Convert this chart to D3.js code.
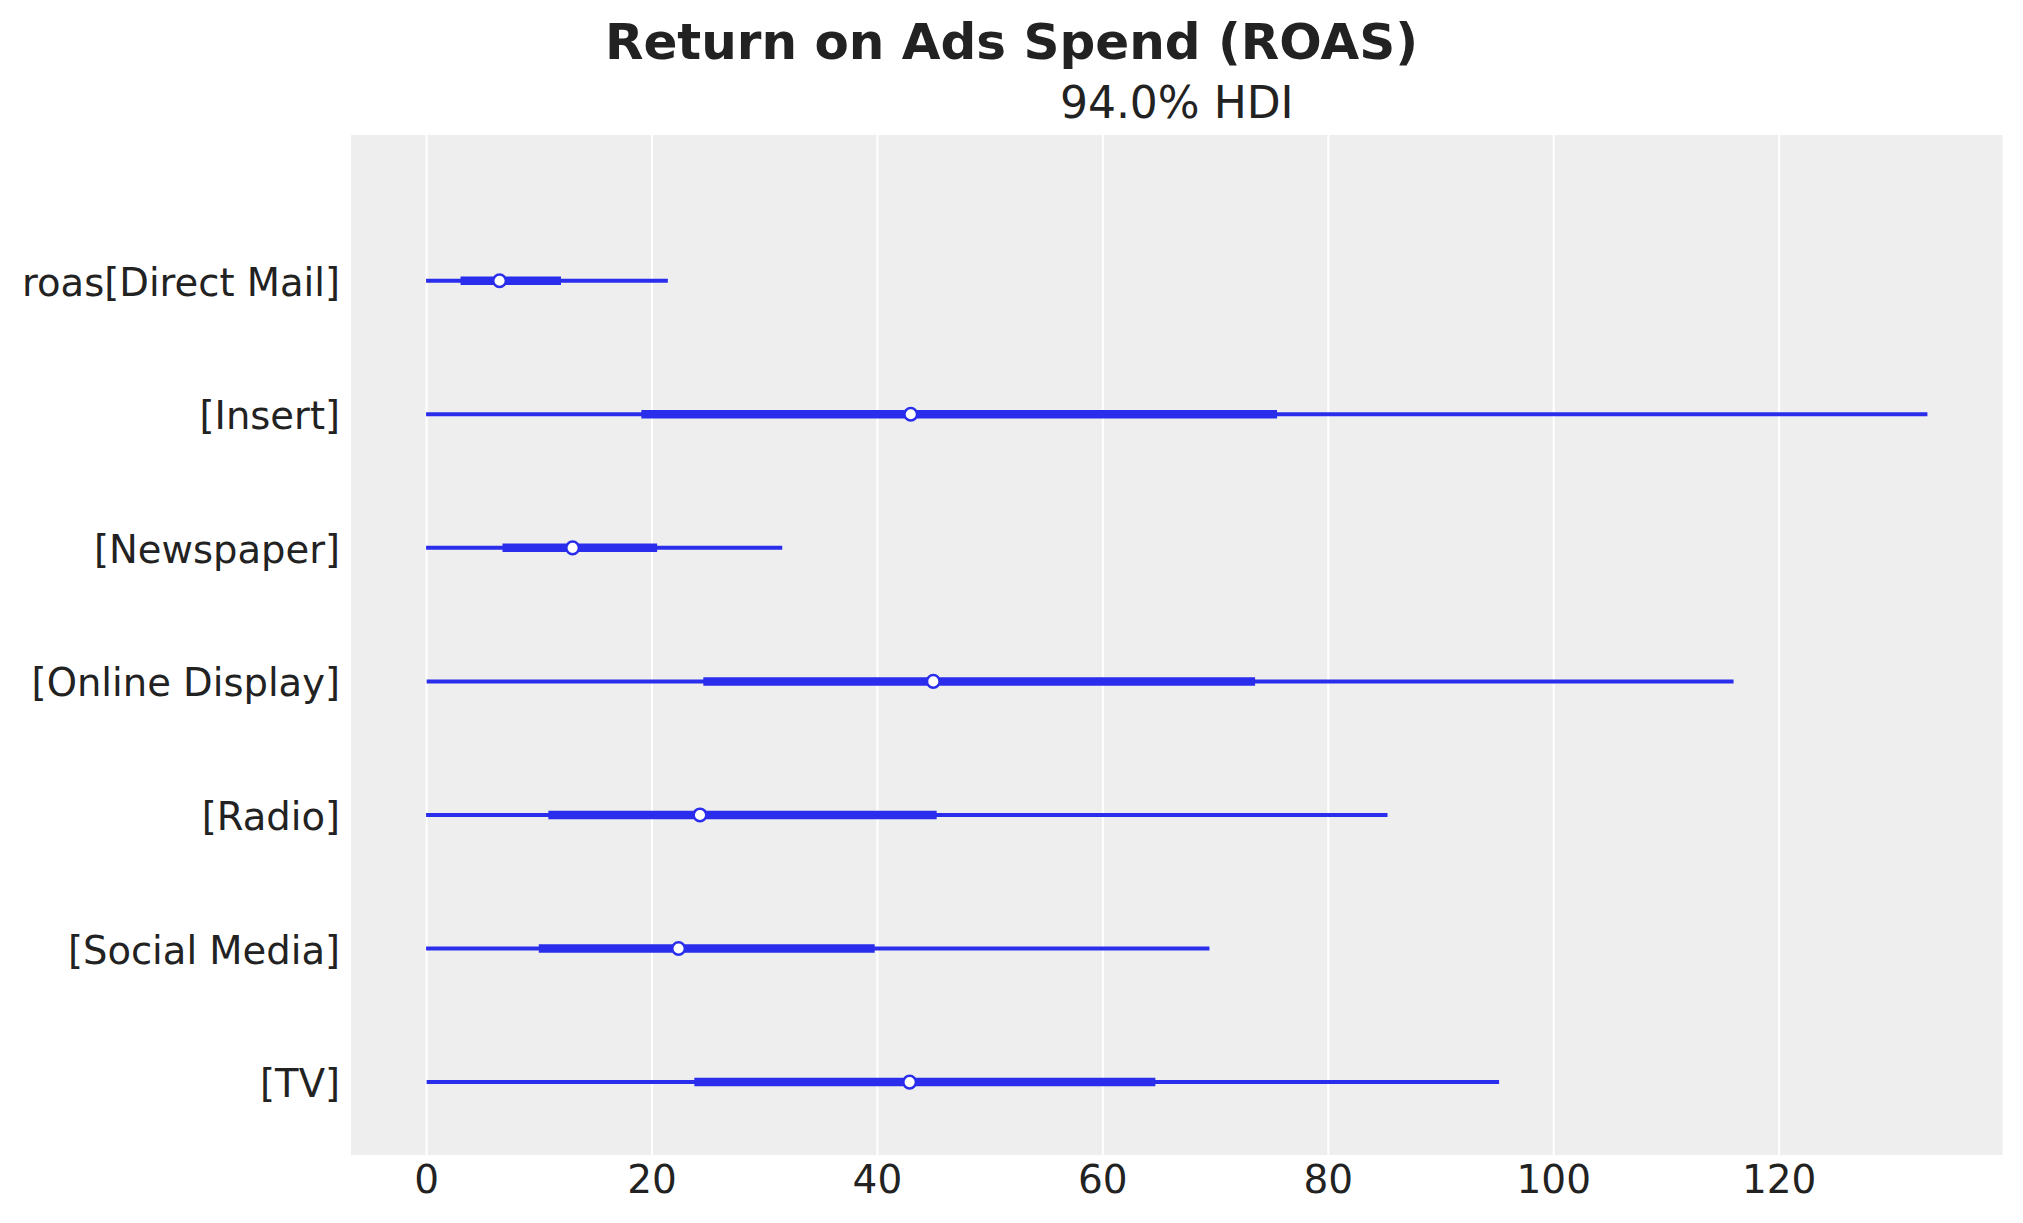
<!DOCTYPE html>
<html>
<head>
<meta charset="utf-8">
<script src="https://cdn.jsdelivr.net/npm/d3@7"></script>
<style>
  body{margin:0;background:#fff;}
  svg{display:block;font-family:"DejaVu Sans",sans-serif;}
</style>
</head>
<body>
<svg width="2023" height="1223"></svg>
<script>
// forest plot values
var channels=['roas[Direct Mail]','[Insert]','[Newspaper]','[Online Display]','[Radio]','[Social Media]','[TV]'];
var hdiLow=[0,0,0,0.05,0,0,0.05];
var hdiHigh=[21.45,133.2,31.6,116.0,85.3,69.5,95.2];
var iqrLow=[3.06,19.1,6.78,24.6,10.85,10.0,23.8];
var iqrHigh=[11.97,75.5,20.5,73.55,45.3,39.8,64.7];
var medians=[6.52,43.0,13.0,45.0,24.3,22.4,42.9];
var xTicks=[0,20,40,60,80,100,120];

var drawGraph=function(){
  let svg=d3.select('body').select('svg');
  let bounds=svg.node().getBoundingClientRect();
  let margin={
    top:135,
    bottom:68,
    right:20.5,
    left:351
  };
  let plotWidth=bounds.width-margin.left-margin.right;
  let plotHeight=bounds.height-margin.top-margin.bottom;

  let rows=channels.map(function(c,i){
    return {label:c,i:i,lo:hdiLow[i],hi:hdiHigh[i],q1:iqrLow[i],q3:iqrHigh[i],med:medians[i]};
  });

  // matplotlib style 5% margins round the data
  let xMin=d3.min(hdiLow),xMax=d3.max(hdiHigh);
  let pad=(xMax-xMin)*0.05;
  let xScale=d3.scaleLinear()
    .domain([xMin-pad,xMax+pad])
    .range([0,plotWidth]);
  let yScale=d3.scaleLinear()
    .domain([-1.091,6.546])
    .range([0,plotHeight]);

  let plot=svg.append('g').attr('id','plot')
    .attr('transform','translate('+margin.left+','+margin.top+')');

  plot.append('rect')
    .attr('width',plotWidth)
    .attr('height',plotHeight)
    .attr('fill','#eeeeee');

  // vertical grid
  let grid=plot.append('g').attr('id','grid')
    .call(d3.axisBottom(xScale).tickValues(xTicks).tickSize(plotHeight).tickFormat(''));
  grid.select('.domain').remove();
  grid.selectAll('line').attr('stroke','#ffffff').attr('stroke-width',2);

  let xGroup=plot.append('g').attr('id','x-axis')
    .attr('transform','translate(0,'+plotHeight+')')
    .call(d3.axisBottom(xScale).tickValues(xTicks).tickSize(0).tickPadding(10).tickFormat(d3.format('d')));
  xGroup.select('.domain').remove();
  xGroup.selectAll('text')
    .attr('font-size',39)
    .attr('fill','#222222')
    .attr('font-family','DejaVu Sans');

  let yGroup=plot.append('g').attr('id','y-axis');
  yGroup.selectAll('text.ylabel')
    .data(rows)
    .enter()
    .append('text')
    .attr('class','ylabel')
    .attr('x',-11)
    .attr('y',function(d){return yScale(d.i)+15;})
    .attr('text-anchor','end')
    .attr('font-size',38.5)
    .attr('fill','#222222')
    .text(function(d){return d.label;});

  let color='#2a2eec';
  let marks=plot.append('g').attr('id','marks');

  marks.selectAll('line.hdi')
    .data(rows)
    .enter()
    .append('line')
    .attr('class','hdi')
    .attr('x1',function(d){return xScale(d.lo);})
    .attr('x2',function(d){return xScale(d.hi);})
    .attr('y1',function(d){return yScale(d.i);})
    .attr('y2',function(d){return yScale(d.i);})
    .attr('stroke',color)
    .attr('stroke-width',4);

  marks.selectAll('line.iqr')
    .data(rows)
    .enter()
    .append('line')
    .attr('class','iqr')
    .attr('x1',function(d){return xScale(d.q1);})
    .attr('x2',function(d){return xScale(d.q3);})
    .attr('y1',function(d){return yScale(d.i);})
    .attr('y2',function(d){return yScale(d.i);})
    .attr('stroke',color)
    .attr('stroke-width',8.5);

  marks.selectAll('circle.med')
    .data(rows)
    .enter()
    .append('circle')
    .attr('class','med')
    .attr('cx',function(d){return xScale(d.med);})
    .attr('cy',function(d){return yScale(d.i);})
    .attr('r',6.3)
    .attr('fill','#ffffff')
    .attr('stroke',color)
    .attr('stroke-width',2.5);

  // titles
  svg.append('text')
    .attr('x',bounds.width/2)
    .attr('y',59)
    .attr('text-anchor','middle')
    .attr('font-size',50)
    .attr('font-weight','bold')
    .attr('fill','#222222')
    .text('Return on Ads Spend (ROAS)');
  svg.append('text')
    .attr('x',margin.left+plotWidth/2)
    .attr('y',118)
    .attr('text-anchor','middle')
    .attr('font-size',44)
    .attr('fill','#222222')
    .text('94.0% HDI');
};

drawGraph();
</script>
</body>
</html>
